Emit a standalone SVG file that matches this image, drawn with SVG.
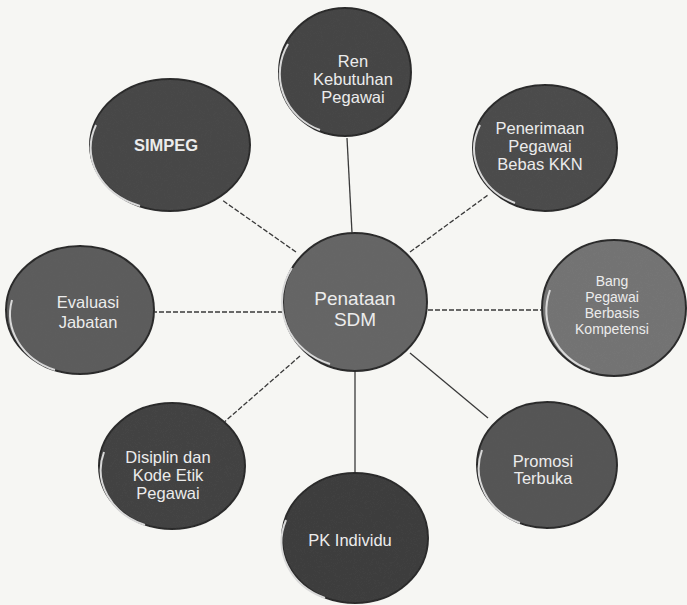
<svg xmlns="http://www.w3.org/2000/svg" width="687" height="605" viewBox="0 0 687 605">
  <defs>
    <filter id="grain" x="-5%" y="-5%" width="110%" height="110%">
      <feTurbulence type="fractalNoise" baseFrequency="0.9" numOctaves="2" seed="3" result="n"/>
      <feColorMatrix in="n" type="matrix" values="0 0 0 0 0.5  0 0 0 0 0.5  0 0 0 0 0.5  0 0 0 0.5 0" result="g"/>
      <feComposite in="g" in2="SourceGraphic" operator="in" result="gi"/>
      <feBlend in="SourceGraphic" in2="gi" mode="overlay"/>
    </filter>
  </defs>
  <style>
    .bg { fill: #f6f6f3; }
    .node ellipse.body { stroke: #2b2b2b; stroke-width: 2; filter: url(#grain); }
    .node path.rim { fill: none; stroke: #d8d8d8; stroke-width: 2; }
    .node text { font-family: "Liberation Sans", Arial, sans-serif; font-size: 16.5px; fill: #ececec; text-anchor: middle; }
    .node text.big { font-size: 19px; }
    .node text.small { font-size: 14px; }
    .node text.bold { font-weight: bold; }
    .conn line { stroke: #3a3a3a; stroke-width: 1.3; }
    .conn line.dash { stroke-dasharray: 5 2; }
  </style>
  <rect class="bg" x="0" y="0" width="687" height="605"/>

  <g id="connectors" class="conn">
    <line x1="347" y1="138" x2="352" y2="233"/>
    <line class="dash" x1="410" y1="252" x2="488" y2="195"/>
    <line class="dash" x1="428" y1="310" x2="542" y2="310"/>
    <line x1="410" y1="353" x2="488" y2="418"/>
    <line x1="355" y1="370" x2="355" y2="476"/>
    <line class="dash" x1="300" y1="356" x2="222" y2="424"/>
    <line class="dash" x1="283" y1="312" x2="150" y2="312"/>
    <line class="dash" x1="296" y1="252" x2="222" y2="200"/>
  </g>

  <g id="node-center" class="node">
    <ellipse class="body" cx="355" cy="302" rx="72" ry="69" fill="#656565"/>
    <path class="rim" d="M 292 268 A 68 65 0 0 0 330 364"/>
    <text class="big" x="355" y="305">Penataan</text>
    <text class="big" x="355" y="326">SDM</text>
  </g>

  <g id="node-ren" class="node">
    <ellipse class="body" cx="345" cy="72" rx="66" ry="64" fill="#444444"/>
    <path class="rim" d="M 288 44 A 62 60 0 0 0 320 130"/>
    <text x="353" y="67">Ren</text>
    <text x="353" y="85">Kebutuhan</text>
    <text x="353" y="103">Pegawai</text>
  </g>

  <g id="node-penerimaan" class="node">
    <ellipse class="body" cx="545" cy="148" rx="72" ry="63" fill="#4c4c4c"/>
    <path class="rim" d="M 480 125 A 68 59 0 0 0 515 203"/>
    <text x="540" y="134">Penerimaan</text>
    <text x="540" y="152">Pegawai</text>
    <text x="540" y="170">Bebas KKN</text>
  </g>

  <g id="node-bang" class="node">
    <ellipse class="body" cx="614" cy="308" rx="72" ry="68" fill="#737373"/>
    <path class="rim" d="M 550 290 A 68 64 0 0 0 590 370"/>
    <text class="small" x="612" y="286">Bang</text>
    <text class="small" x="612" y="302">Pegawai</text>
    <text class="small" x="612" y="318">Berbasis</text>
    <text class="small" x="612" y="334">Kompetensi</text>
  </g>

  <g id="node-simpeg" class="node">
    <ellipse class="body" cx="170" cy="145" rx="80" ry="66" fill="#474747"/>
    <path class="rim" d="M 96 125 A 76 62 0 0 0 140 206"/>
    <text class="bold" x="166" y="151">SIMPEG</text>
  </g>

  <g id="node-evaluasi" class="node">
    <ellipse class="body" cx="80" cy="310" rx="74" ry="64" fill="#5b5b5b"/>
    <path class="rim" d="M 12 300 A 70 60 0 0 0 55 370"/>
    <text x="88" y="308">Evaluasi</text>
    <text x="88" y="328">Jabatan</text>
  </g>

  <g id="node-disiplin" class="node">
    <ellipse class="body" cx="172" cy="466" rx="73" ry="63" fill="#424242"/>
    <path class="rim" d="M 104 452 A 69 59 0 0 0 145 525"/>
    <text x="168" y="463">Disiplin dan</text>
    <text x="168" y="481">Kode Etik</text>
    <text x="168" y="499">Pegawai</text>
  </g>

  <g id="node-promosi" class="node">
    <ellipse class="body" cx="547" cy="465" rx="70" ry="63" fill="#555555"/>
    <path class="rim" d="M 482 450 A 66 59 0 0 0 520 523"/>
    <text x="543" y="467">Promosi</text>
    <text x="543" y="484">Terbuka</text>
  </g>

  <g id="node-pk" class="node">
    <ellipse class="body" cx="355" cy="538" rx="73" ry="65" fill="#3e3e3e"/>
    <path class="rim" d="M 286 520 A 69 61 0 0 0 325 598"/>
    <text x="350" y="546">PK Individu</text>
  </g>
</svg>
